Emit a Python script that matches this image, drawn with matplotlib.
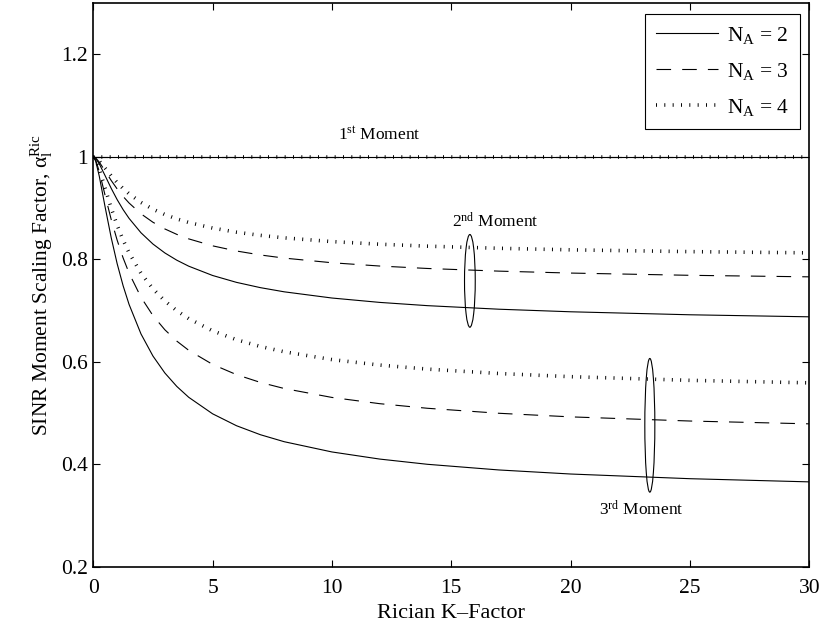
import matplotlib
matplotlib.use('Agg')
import matplotlib.pyplot as plt
from matplotlib.patches import Ellipse

plt.rcParams['font.family'] = ['Liberation Serif', 'DejaVu Serif']
plt.rcParams['mathtext.fontset'] = 'custom'
plt.rcParams['mathtext.rm'] = 'Liberation Serif'
plt.rcParams['mathtext.it'] = 'Liberation Serif:italic'
plt.rcParams['mathtext.default'] = 'rm'
plt.rcParams['lines.scale_dashes'] = False

# Rician K-factor grid
K = [0, 0.1, 0.25, 0.5, 0.75, 1, 1.25, 1.5, 2, 2.5, 3, 3.5, 4, 5, 6, 7, 8,
     10, 12, 14, 17, 20, 25, 30]

# 1st moment scaling factor (identical for every N_A)
m1 = [1.0] * len(K)

# 2nd moment scaling factor
m2_n2 = [1.0, 0.99725, 0.98667, 0.96296, 0.93878, 0.91667, 0.89712, 0.88,
         0.85185, 0.82993, 0.8125, 0.79835, 0.78667, 0.76852, 0.7551, 0.74479,
         0.73663, 0.72452, 0.71598, 0.70963, 0.70267, 0.69766, 0.69181, 0.68783]
m2_n3 = [1.0, 0.99793, 0.99, 0.97222, 0.95408, 0.9375, 0.92284, 0.91,
         0.88889, 0.87245, 0.85938, 0.84877, 0.84, 0.82639, 0.81633, 0.80859,
         0.80247, 0.79339, 0.78698, 0.78222, 0.77701, 0.77324, 0.76886, 0.76587]
m2_n4 = [1.0, 0.99835, 0.992, 0.97778, 0.96327, 0.95, 0.93827, 0.928,
         0.91111, 0.89796, 0.8875, 0.87901, 0.872, 0.86111, 0.85306, 0.84688,
         0.84198, 0.83471, 0.82959, 0.82578, 0.8216, 0.81859, 0.81509, 0.8127]

# 3rd moment scaling factor
m3_n2 = [1.0, 0.99199, 0.96267, 0.90123, 0.84257, 0.79167, 0.74852, 0.712,
         0.65432, 0.61128, 0.57813, 0.5519, 0.53067, 0.49846, 0.47522, 0.45768,
         0.44399, 0.42399, 0.4101, 0.3999, 0.38883, 0.38092, 0.37178, 0.36558]
m3_n3 = [1.0, 0.99395, 0.9716, 0.92407, 0.87799, 0.8375, 0.80281, 0.7732,
         0.72593, 0.69024, 0.6625, 0.6404, 0.6224, 0.59491, 0.57493, 0.55977,
         0.54787, 0.53043, 0.51825, 0.50927, 0.4995, 0.4925, 0.48438, 0.47887]
m3_n4 = [1.0, 0.99514, 0.97707, 0.93827, 0.90029, 0.86667, 0.83768, 0.8128,
         0.77284, 0.74247, 0.71875, 0.69977, 0.68427, 0.66049, 0.64315, 0.62995,
         0.61957, 0.60431, 0.59363, 0.58574, 0.57714, 0.57096, 0.5638, 0.55893]

labels = ['N$_{\\mathrm{A}}$ = 2', 'N$_{\\mathrm{A}}$ = 3', 'N$_{\\mathrm{A}}$ = 4']
xticks = [0, 5, 10, 15, 20, 25, 30]
yticks = [0.2, 0.4, 0.6, 0.8, 1.0, 1.2]
yticklabels = ['0.2', '0.4', '0.6', '0.8', '1', '1.2']

styles = [
    dict(linestyle='-', linewidth=0.8),
    dict(linestyle=(0, (10.5, 8.0)), linewidth=0.8),
    dict(linestyle=(0, (0.7, 5.3)), linewidth=2.6, dash_capstyle='butt'),
]

fig = plt.figure(figsize=(8.24, 6.27), dpi=100)
ax = fig.add_axes([0.1132, 0.0962, 0.8689, 0.8986])

handles = []
for st, lab, s2, s3 in zip(styles, labels, [m2_n2, m2_n3, m2_n4], [m3_n2, m3_n3, m3_n4]):
    h, = ax.plot(K, m1, color='k', label=lab, **st)
    ax.plot(K, s2, color='k', **st)
    ax.plot(K, s3, color='k', **st)
    handles.append(h)

# ellipses grouping the curves of each moment
ax.add_patch(Ellipse((15.78, 0.758), 0.45, 0.181, fill=False, lw=0.8, ec='k'))
ax.add_patch(Ellipse((23.32, 0.476), 0.42, 0.261, fill=False, lw=0.8, ec='k'))

ax.text(12.0, 1.044, '1$^{\\mathrm{st}}$ Moment', ha='center', va='center', fontsize=12.5)
ax.text(16.85, 0.873, '2$^{\\mathrm{nd}}$ Moment', ha='center', va='center', fontsize=12.5)
ax.text(22.94, 0.3115, '3$^{\\mathrm{rd}}$ Moment', ha='center', va='center', fontsize=12.5)

ax.set_xlim(0, 30)
ax.set_ylim(0.2, 1.3)
ax.set_xticks(xticks)
ax.set_yticks(yticks)
ax.set_yticklabels(yticklabels)
ax.tick_params(direction='in', length=5, width=0.8, top=True, right=True,
               labelsize=15.5, pad=4)
ax.tick_params(axis='x', pad=9)
for sp in ax.spines.values():
    sp.set_linewidth(1.2)

ax.set_xlabel('Rician K\u2013Factor', fontsize=16, labelpad=4)
ax.set_ylabel('SINR Moment Scaling Factor, $\\alpha_{\\mathrm{l}}^{\\mathrm{Ric}}$',
              fontsize=15.5, labelpad=4)

leg = ax.legend(handles=handles, loc='upper right', bbox_to_anchor=(0.987, 0.981),
                borderaxespad=0, fontsize=15.5, handlelength=2.9, handletextpad=0.4,
                labelspacing=0.7, borderpad=0.5, fancybox=False, framealpha=1)
leg.get_frame().set_edgecolor('k')
leg.get_frame().set_linewidth(0.8)

fig.savefig('out.png', dpi=100)
